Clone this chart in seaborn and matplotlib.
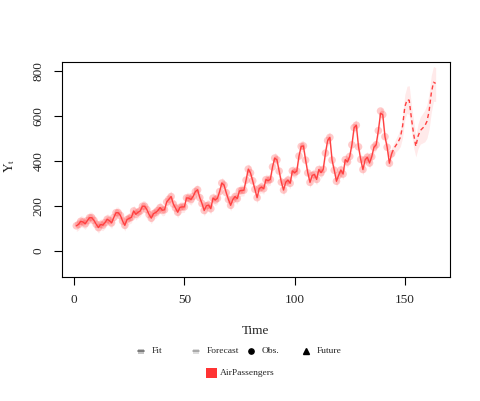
import numpy as np
import pandas as pd
import matplotlib
matplotlib.use("Agg")
import matplotlib.pyplot as plt
import seaborn as sns
from matplotlib.lines import Line2D
from matplotlib.patches import Rectangle

# ---------------- data ----------------
obs = [112, 118, 132, 129, 121, 135, 148, 148, 136, 119, 104, 118,
       115, 126, 141, 135, 125, 149, 170, 170, 158, 133, 114, 140,
       145, 150, 178, 163, 172, 178, 199, 199, 184, 162, 146, 166,
       171, 180, 193, 181, 183, 218, 230, 242, 209, 191, 172, 194,
       196, 196, 236, 235, 229, 243, 264, 272, 237, 211, 180, 201,
       204, 188, 235, 227, 234, 264, 302, 293, 259, 229, 203, 229,
       242, 233, 267, 269, 270, 315, 364, 347, 312, 274, 237, 278,
       284, 277, 317, 313, 318, 374, 413, 405, 355, 306, 271, 306,
       315, 301, 356, 348, 355, 422, 465, 467, 404, 347, 305, 336,
       340, 318, 362, 348, 363, 435, 491, 505, 404, 359, 310, 337,
       360, 342, 406, 396, 420, 472, 548, 559, 463, 407, 362, 405,
       417, 391, 419, 461, 472, 535, 622, 606, 508, 461, 390, 432]
fit = [112, 118, 132, 129, 121, 135, 148, 148, 136, 119, 104, 118,
       115, 126, 141, 135, 125, 149, 170, 170, 158, 133, 114, 140,
       145, 150, 178, 163, 172, 178, 199, 199, 184, 162, 146, 166,
       171, 180, 193, 181, 183, 218, 230, 242, 209, 191, 172, 194,
       196, 196, 236, 235, 229, 243, 264, 272, 237, 211, 180, 201,
       204, 188, 235, 227, 234, 264, 302, 293, 259, 229, 203, 229,
       242, 233, 267, 269, 270, 315, 364, 347, 312, 274, 237, 278,
       284, 277, 317, 313, 318, 374, 413, 405, 355, 306, 271, 306,
       315, 301, 356, 348, 355, 422, 465, 467, 404, 347, 305, 336,
       340, 318, 362, 348, 363, 435, 491, 505, 404, 359, 310, 337,
       360, 342, 406, 396, 420, 472, 548, 559, 463, 407, 362, 405,
       417, 391, 419, 461, 472, 535, 612, 606, 508, 461, 390, 432]
fit_band = 25  # half-width of fit interval

forecast = [455, 470, 485, 505, 555, 640, 672, 670, 590, 520,
            465, 510, 535, 545, 555, 575, 620, 700, 750, 745]
fc_lo = [432, 440, 450, 465, 505, 585, 612, 605, 530, 460,
         418, 455, 475, 480, 485, 500, 540, 615, 665, 665]
fc_hi = [478, 500, 520, 545, 605, 695, 732, 735, 650, 580,
         515, 565, 595, 610, 625, 650, 700, 780, 820, 815]

legend_labels = ["Fit", "Forecast", "Obs.", "Future"]
series_name = "AirPassengers"

# ---------------- style ----------------
sns.set_theme(style="white")
plt.rcParams["font.family"] = ["Liberation Serif", "DejaVu Serif"]
plt.rcParams["mathtext.fontset"] = "stix"

RED = "#FF3333"

fig = plt.figure(figsize=(4.81, 4.01), dpi=100)
ax = fig.add_axes([62 / 481, 1 - 277 / 401, (450 - 62) / 481, (277 - 62) / 401])

t_obs = np.arange(1, len(obs) + 1)
df_obs = pd.DataFrame({"t": t_obs, "obs": obs, "fit": fit})
df_obs["lo"] = df_obs["fit"] - fit_band
df_obs["hi"] = df_obs["fit"] + fit_band

t_fc = np.arange(len(obs), len(obs) + len(forecast) + 1)
df_fc = pd.DataFrame({"t": t_fc,
                      "fc": [fit[-1]] + forecast,
                      "lo": [fit[-1] - fit_band] + fc_lo,
                      "hi": [fit[-1] + fit_band] + fc_hi})

# bands
ax.fill_between(df_obs["t"], df_obs["lo"], df_obs["hi"], color=RED, alpha=0.10, lw=0)
ax.fill_between(df_fc["t"], df_fc["lo"], df_fc["hi"], color=RED, alpha=0.10, lw=0)

# observations
sns.scatterplot(data=df_obs, x="t", y="obs", ax=ax, color="#FF5555", alpha=0.30,
                s=30, edgecolor="none", legend=False, zorder=2)
# fit line
sns.lineplot(data=df_obs, x="t", y="fit", ax=ax, color="#FF4040", lw=1.0,
             legend=False, zorder=3)
# forecast line
sns.lineplot(data=df_fc, x="t", y="fc", ax=ax, color="#FF4040", lw=1.0,
             legend=False, zorder=3, linestyle=(0, (3, 2.2)))

ax.set_xlim(-5.5, 170.5)
ax.set_ylim(-115.6, 840)
ax.set_xticks([0, 50, 100, 150])
ax.set_yticks([0, 200, 400, 600, 800])
ax.tick_params(axis="both", direction="out", length=5.5, width=0.8, color="black",
               labelsize=9.5, pad=7, bottom=True, left=True)
for lab in ax.get_yticklabels():
    lab.set_rotation(90)
    lab.set_va("center")
for sp in ax.spines.values():
    sp.set_color("black")
    sp.set_linewidth(0.8)
ax.set_xlabel("")
ax.set_ylabel("")
ax.grid(False)

fig.text(10 / 481, 1 - 166 / 401, r"$\mathrm{Y}_\mathrm{t}$", rotation=90,
         ha="center", va="center", fontsize=9.5)
fig.text(256 / 481, 1 - 331 / 401, "Time", ha="center", va="center", fontsize=9.5)

# legend row 1 (equal-width columns, R style)
W, H = 481.0, 401.0
ly = 1 - 351 / H
fs_leg = 6.8
col_x = [138, 193, 248, 303]
txt_off = 14
# Fit icon
fig.add_artist(Rectangle((col_x[0] / W, ly - 2.5 / H), 6 / W, 5 / H, transform=fig.transFigure,
                         facecolor="#c4c4c4", edgecolor="none"))
fig.add_artist(Line2D([col_x[0] / W, (col_x[0] + 6) / W], [ly, ly], transform=fig.transFigure,
                      color="#6e6e6e", lw=1.2))
# Forecast icon
fig.add_artist(Rectangle((col_x[1] / W, ly - 2.5 / H), 6 / W, 5 / H, transform=fig.transFigure,
                         facecolor="#dddddd", edgecolor="none"))
fig.add_artist(Line2D([col_x[1] / W, (col_x[1] + 6) / W], [ly, ly], transform=fig.transFigure,
                      color="#9a9a9a", lw=1.1))
# Obs icon
fig.add_artist(Line2D([(col_x[2] + 3) / W], [ly], transform=fig.transFigure, marker="o",
                      color="black", markersize=3.8, lw=0))
# Future icon
fig.add_artist(Line2D([(col_x[3] + 3) / W], [ly + 0.5 / H], transform=fig.transFigure, marker="^",
                      color="black", markersize=4.6, lw=0))
for cx, lab in zip(col_x, legend_labels):
    fig.text((cx + txt_off) / W, ly, lab, ha="left", va="center", fontsize=fs_leg)

# legend row 2
ly2 = 1 - 373 / H
fig.add_artist(Rectangle((206.5 / W, ly2 - 5 / H), 11 / W, 10 / H, transform=fig.transFigure,
                         facecolor=RED, edgecolor="none"))
fig.text(220 / W, ly2, series_name, ha="left", va="center", fontsize=fs_leg)

fig.savefig("out.png", dpi=100)
